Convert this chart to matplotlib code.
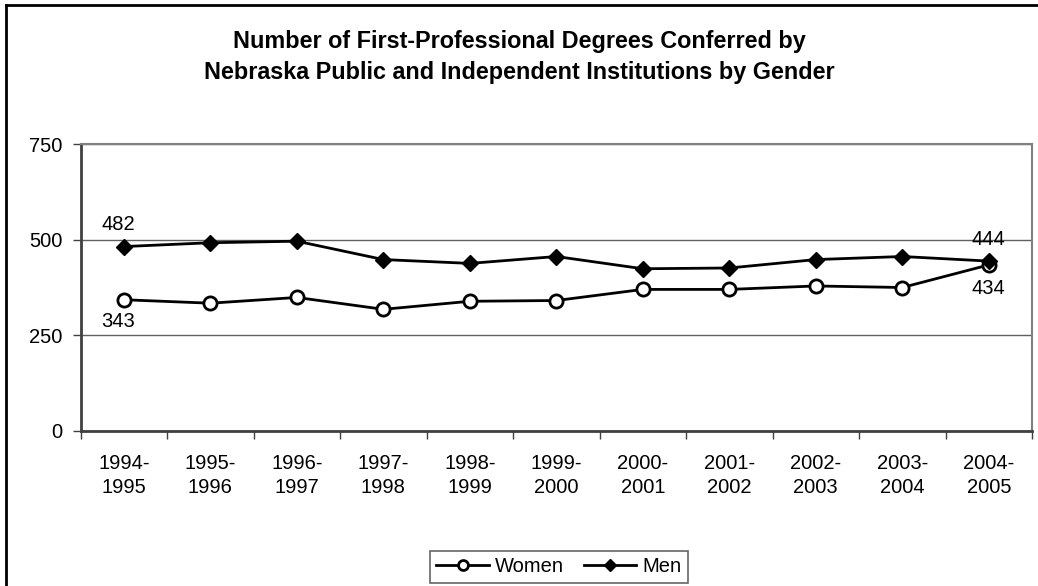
import matplotlib.pyplot as plt
from matplotlib.lines import Line2D
import numpy as np

plt.rcParams['font.family'] = ['Liberation Sans', 'DejaVu Sans']

# Data
years = ["1994-\n1995", "1995-\n1996", "1996-\n1997", "1997-\n1998", "1998-\n1999",
         "1999-\n2000", "2000-\n2001", "2001-\n2002", "2002-\n2003", "2003-\n2004",
         "2004-\n2005"]
women = [343, 334, 349, 318, 339, 341, 370, 370, 379, 375, 434]
men = [482, 492, 496, 448, 438, 456, 424, 426, 448, 456, 444]

W, H = 1038, 586
fig = plt.figure(figsize=(W / 100, H / 100), dpi=100)
ax = fig.add_axes([80.7 / W, 1 - 431 / H, (1032 - 80.7) / W, (431 - 144) / H])

x = np.arange(len(years))
ax.plot(x, women, color='black', lw=2, marker='o', ms=9.5, mfc='white',
        mec='black', mew=2, label='Women', zorder=3)
ax.plot(x, men, color='black', lw=2, marker='D', ms=8, mfc='black',
        mec='black', label='Men', zorder=4)

# Etiquetas de datos (primero y ultimo)
fs = 14.5
ax.annotate(str(men[0]), (x[0], men[0]), xytext=(-4, 9), textcoords='offset points',
            ha='center', va='bottom', fontsize=fs)
ax.annotate(str(women[0]), (x[0], women[0]), xytext=(-4, -9), textcoords='offset points',
            ha='center', va='top', fontsize=fs)
ax.annotate(str(men[-1]), (x[-1], men[-1]), xytext=(0, 9), textcoords='offset points',
            ha='center', va='bottom', fontsize=fs)
ax.annotate(str(women[-1]), (x[-1], women[-1]), xytext=(0, -10), textcoords='offset points',
            ha='center', va='top', fontsize=fs)

ax.set_xlim(-0.5, len(years) - 0.5)
ax.set_ylim(0, 750)
ax.set_yticks([0, 250, 500, 750])
ax.yaxis.grid(True, color='#606060', lw=1)
ax.set_axisbelow(True)

ax.set_xticks(x)
ax.set_xticklabels(years, fontsize=fs, linespacing=1.34)
ax.set_xticks(np.arange(-0.5, len(years), 1), minor=True)
ax.tick_params(axis='x', which='major', length=0, pad=16.5)
ax.tick_params(axis='x', which='minor', length=6, width=1, color='#404040')
ax.tick_params(axis='y', length=6, width=1, color='#404040', labelsize=fs, pad=7)

for s in ['top', 'right']:
    ax.spines[s].set_color('#808080')
    ax.spines[s].set_linewidth(1.5)
for s in ['left', 'bottom']:
    ax.spines[s].set_color('#404040')
    ax.spines[s].set_linewidth(2)

fig.text(0.5, 1 - 48 / H, "Number of First-Professional Degrees Conferred by",
         ha='center', va='baseline', fontsize=16.8, fontweight='bold')
fig.text(0.5, 1 - 79 / H, "Nebraska Public and Independent Institutions by Gender",
         ha='center', va='baseline', fontsize=16.8, fontweight='bold')

leg = fig.legend(loc='center', bbox_to_anchor=(559 / W, 1 - 567 / H), ncol=2,
                 fontsize=fs, frameon=True, fancybox=False, handlelength=2.6,
                 columnspacing=1.0, handletextpad=0.3, borderpad=0.3,
                 markerscale=0.75)
leg.get_frame().set_edgecolor('#404040')
leg.get_frame().set_linewidth(1.2)

# Borde exterior del grafico
fig.add_artist(Line2D([6 / W, 6 / W], [0, 1 - 5 / H], color='black', lw=2,
                      transform=fig.transFigure))
fig.add_artist(Line2D([6 / W, 1], [1 - 5 / H, 1 - 5 / H], color='black', lw=2,
                      transform=fig.transFigure))

plt.savefig("out.png", dpi=100)
